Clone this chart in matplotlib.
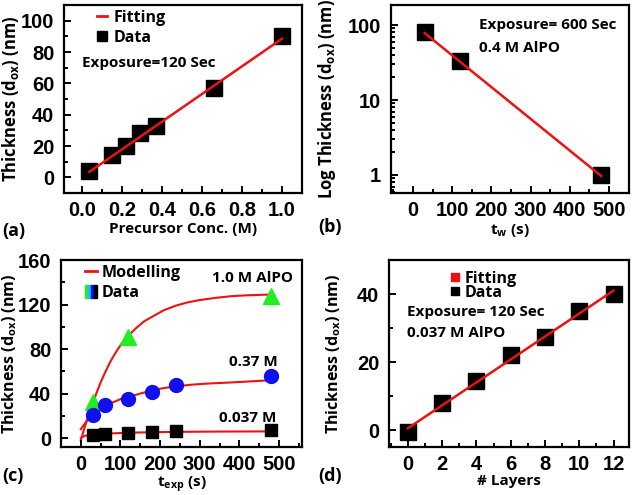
import matplotlib
matplotlib.use("Agg")
import matplotlib.pyplot as plt
from matplotlib.patches import Rectangle
from matplotlib.lines import Line2D
from matplotlib.legend_handler import HandlerTuple
from matplotlib.ticker import MultipleLocator, LogLocator, NullFormatter, FixedLocator

plt.rcParams['mathtext.default'] = 'regular'

# (a) thickness vs precursor concentration
conc = [0.037, 0.15, 0.22, 0.29, 0.37, 0.66, 1.0]
thick_a = [4, 14, 20, 28, 33, 57, 90]
err_a = [1, 1, 1.5, 1.5, 1.5, 3, 3.5]
fit_a_x = [0.037, 1.0]
fit_a_y = [3.5, 88.5]

# (b) log thickness vs wait time
tw = [30, 120, 480]
thick_b = [80, 33, 1.0]
err_b = [10, 4, 0.08]
fit_b_x = [30, 480]
fit_b_y = [78, 0.97]

# (c) thickness vs exposure time
t_10 = [30, 120, 480]
d_10 = [32, 91, 128]
t_037 = [30, 60, 120, 180, 240, 480]
d_037 = [21, 30, 35, 41, 48, 56]
t_0037 = [30, 60, 120, 180, 240, 480]
d_0037 = [2.5, 4, 5, 5.5, 6.5, 7]
mod_10_t = [0, 10, 20, 30, 40, 50, 60, 75, 90, 105, 120, 140, 160, 180, 210,
            240, 270, 300, 340, 380, 420, 480]
mod_10_d = [-2, 10, 21, 31, 41, 50, 58, 69, 78, 86, 92, 99, 105, 109, 115,
            119, 122, 124, 126, 127.5, 128.3, 129]
mod_037_t = [0, 10, 20, 30, 45, 60, 80, 100, 120, 150, 180, 210, 240, 280,
             320, 380, 430, 480]
mod_037_d = [8, 13, 18, 22, 26, 29, 32, 35, 37, 40, 43, 45, 46.5, 48,
             49, 50, 51, 52]
mod_0037_t = [0, 5, 10, 20, 30, 45, 60, 90, 120, 180, 240, 360, 480]
mod_0037_d = [0, 1.2, 2, 2.7, 3.1, 3.5, 3.9, 4.4, 4.8, 5.3, 5.6, 5.9, 6]

# (d) thickness vs number of layers
layers = [0, 2, 4, 6, 8, 10, 12]
thick_d = [-0.5, 8, 14.5, 22, 27.5, 35, 40]
fit_d_x = [0, 12]
fit_d_y = [0.5, 41]

W, H = 632, 495
fig = plt.figure(figsize=(W / 100, H / 100), dpi=100)

labfont = dict(family='Open Sans', weight='bold', size=11)
txtfont = dict(family='Open Sans', weight='bold', size=11)
legprop = dict(family='Open Sans', weight='bold', size=11.5)
RED = '#ee1111'


def make_ax(l, r, t, b):
    ax = fig.add_axes([l / W, 1 - b / H, (r - l) / W, (b - t) / H])
    for s in ax.spines.values():
        s.set_linewidth(1.6)
    ax.tick_params(which='both', direction='in', width=1.4, top=False, right=False)
    ax.tick_params(which='major', length=5, pad=7)
    ax.tick_params(which='minor', length=3)
    ax.tick_params(axis='x', which='major', pad=6)
    return ax


def style_ticks(ax):
    for lab in ax.get_xticklabels() + ax.get_yticklabels():
        lab.set_fontfamily('Liberation Sans')
        lab.set_fontweight('bold')
        lab.set_fontsize(14.5)


def ylab(ax, text, xright, l, size):
    # xright: pixel column of the label's right side
    ax.set_ylabel(text, family='Open Sans', weight='bold', size=size)
    w = ax.get_position().width * W
    ax.yaxis.set_label_coords((xright - l) / w, 0.5)


# ---- (a)
ax = make_ax(64, 302, 5, 193)
ax.plot(fit_a_x, fit_a_y, color=RED, lw=1.8, zorder=3)
ax.errorbar(conc, thick_a, yerr=err_a, fmt='s', color='black', ms=11, capsize=3,
            elinewidth=1, zorder=2)
ax.set_xlim(-0.09, 1.1)
ax.set_ylim(-10, 110)
ax.xaxis.set_minor_locator(MultipleLocator(0.1))
ax.yaxis.set_major_locator(FixedLocator([0, 20, 40, 60, 80, 100]))
ax.yaxis.set_minor_locator(MultipleLocator(10))
ax.set_xticks([0, 0.2, 0.4, 0.6, 0.8, 1.0])
ax.set_xticklabels(['0.0', '0.2', '0.4', '0.6', '0.8', '1.0'])
style_ticks(ax)
ax.set_xlabel('Precursor Conc. (M)', **labfont, labelpad=1)
ylab(ax, 'Thickness (d$_{ox}$) (nm)', 21, 64, 12)
ax.text(0.0, 73, 'Exposure=120 Sec', va='center', ha='left', **txtfont)
ax.legend([Line2D([], [], color=RED, lw=2),
           Line2D([], [], ls='', marker='s', color='black', ms=7)],
          ['Fitting', 'Data'], loc='upper left', bbox_to_anchor=(0.08, 1.05),
          frameon=False, prop=legprop,
          handlelength=0.6, handletextpad=0.4, labelspacing=0.25)

# ---- (b)
ax = make_ax(391, 629, 5, 193)
ax.plot(fit_b_x, fit_b_y, color=RED, lw=1.8, zorder=3)
ax.errorbar(tw, thick_b, yerr=err_b, fmt='s', color='black', ms=11, capsize=3,
            elinewidth=1, zorder=2)
ax.set_yscale('log')
ax.set_xlim(-56, 551)
ax.set_ylim(0.575, 185)
ax.xaxis.set_major_locator(MultipleLocator(100))
ax.xaxis.set_minor_locator(MultipleLocator(50))
ax.yaxis.set_minor_locator(LogLocator(base=10, subs=range(2, 10)))
ax.yaxis.set_minor_formatter(NullFormatter())
ax.set_yticks([1, 10, 100])
ax.set_yticklabels(['1', '10', '100'])
style_ticks(ax)
ax.set_xlabel('t$_w$ (s)', **labfont, labelpad=1)
ylab(ax, 'Log Thickness (d$_{ox}$) (nm)', 338, 391, 12)
ax.text(168, 100, 'Exposure= 600 Sec', va='center', ha='left', **txtfont)
ax.text(168, 49, '0.4 M AlPO', va='center', ha='left', **txtfont)

# ---- (c)
ax = make_ax(61, 302, 260, 447)
ax.plot(mod_10_t, mod_10_d, color=RED, lw=1.5, zorder=1)
ax.plot(mod_037_t, mod_037_d, color=RED, lw=1.5, zorder=1)
ax.plot(mod_0037_t, mod_0037_d, color=RED, lw=1.5, zorder=1)
ax.plot(t_10, d_10, '^', color='#22ee22', ms=11.5, zorder=2)
ax.plot(t_037, d_037, 'o', color='#1010ee', ms=10, zorder=2)
ax.plot(t_0037, d_0037, 's', color='black', ms=9, zorder=2)
ax.set_xlim(-50, 558)
ax.set_ylim(-8, 160)
ax.xaxis.set_major_locator(MultipleLocator(100))
ax.xaxis.set_minor_locator(MultipleLocator(50))
ax.yaxis.set_major_locator(MultipleLocator(40))
ax.yaxis.set_minor_locator(MultipleLocator(20))
style_ticks(ax)
ax.set_xlabel('t$_{exp}$ (s)', **labfont, labelpad=0)
ylab(ax, 'Thickness (d$_{ox}$) (nm)', 19, 61, 11.5)
ax.text(536, 144, '1.0 M AlPO', va='center', ha='right', **txtfont)
ax.text(498, 68, '0.37 M', va='center', ha='right', **txtfont)
ax.text(494, 18, '0.037 M', va='center', ha='right', **txtfont)
h_line = Line2D([], [], color=RED, lw=2)
h_data = (Rectangle((0, 0), 1, 1, color='#22ee22'), Rectangle((0, 0), 1, 1, color='#22bbee'),
          Rectangle((0, 0), 1, 1, color='#1010ee'), Rectangle((0, 0), 1, 1, color='black'))
ax.legend([h_line, h_data], ['Modelling', 'Data'], loc='upper left',
          bbox_to_anchor=(0.04, 1.05), frameon=False, prop=legprop,
          handler_map={tuple: HandlerTuple(ndivide=None, pad=0)},
          handlelength=0.75, handleheight=0.9, handletextpad=0.3, labelspacing=0.25)

# ---- (d)
ax = make_ax(389, 629, 260, 447)
ax.plot(fit_d_x, fit_d_y, color=RED, lw=1.8, zorder=3)
ax.plot(layers, thick_d, 's', color='black', ms=11, zorder=2)
ax.set_xlim(-1.1, 12.9)
ax.set_ylim(-5, 50)
ax.xaxis.set_major_locator(MultipleLocator(2))
ax.xaxis.set_minor_locator(MultipleLocator(1))
ax.yaxis.set_major_locator(MultipleLocator(20))
ax.yaxis.set_minor_locator(MultipleLocator(10))
style_ticks(ax)
ax.set_xlabel('# Layers', **labfont, labelpad=0)
ylab(ax, 'Thickness (d$_{ox}$) (nm)', 343, 389, 11.5)
ax.text(-0.05, 34.7, 'Exposure= 120 Sec', va='center', ha='left', **txtfont)
ax.text(-0.05, 28.5, '0.037 M AlPO', va='center', ha='left', **txtfont)
ax.legend([Rectangle((0, 0), 1, 1, color=RED), Rectangle((0, 0), 1, 1, color='black')],
          ['Fitting', 'Data'], loc='upper left', bbox_to_anchor=(0.2, 1.02), frameon=False,
          prop=legprop, handlelength=0.45, handleheight=0.45, handletextpad=0.35,
          labelspacing=-0.12)

# panel labels
panel = dict(family='Open Sans', weight='bold', size=13, va='center', ha='left')
fig.text(2 / W, 1 - 231 / H, '(a)', **panel)
fig.text(318 / W, 1 - 227 / H, '(b)', **panel)
fig.text(2 / W, 1 - 476 / H, '(c)', **panel)
fig.text(318 / W, 1 - 476 / H, '(d)', **panel)

fig.savefig('out.png', dpi=100)
